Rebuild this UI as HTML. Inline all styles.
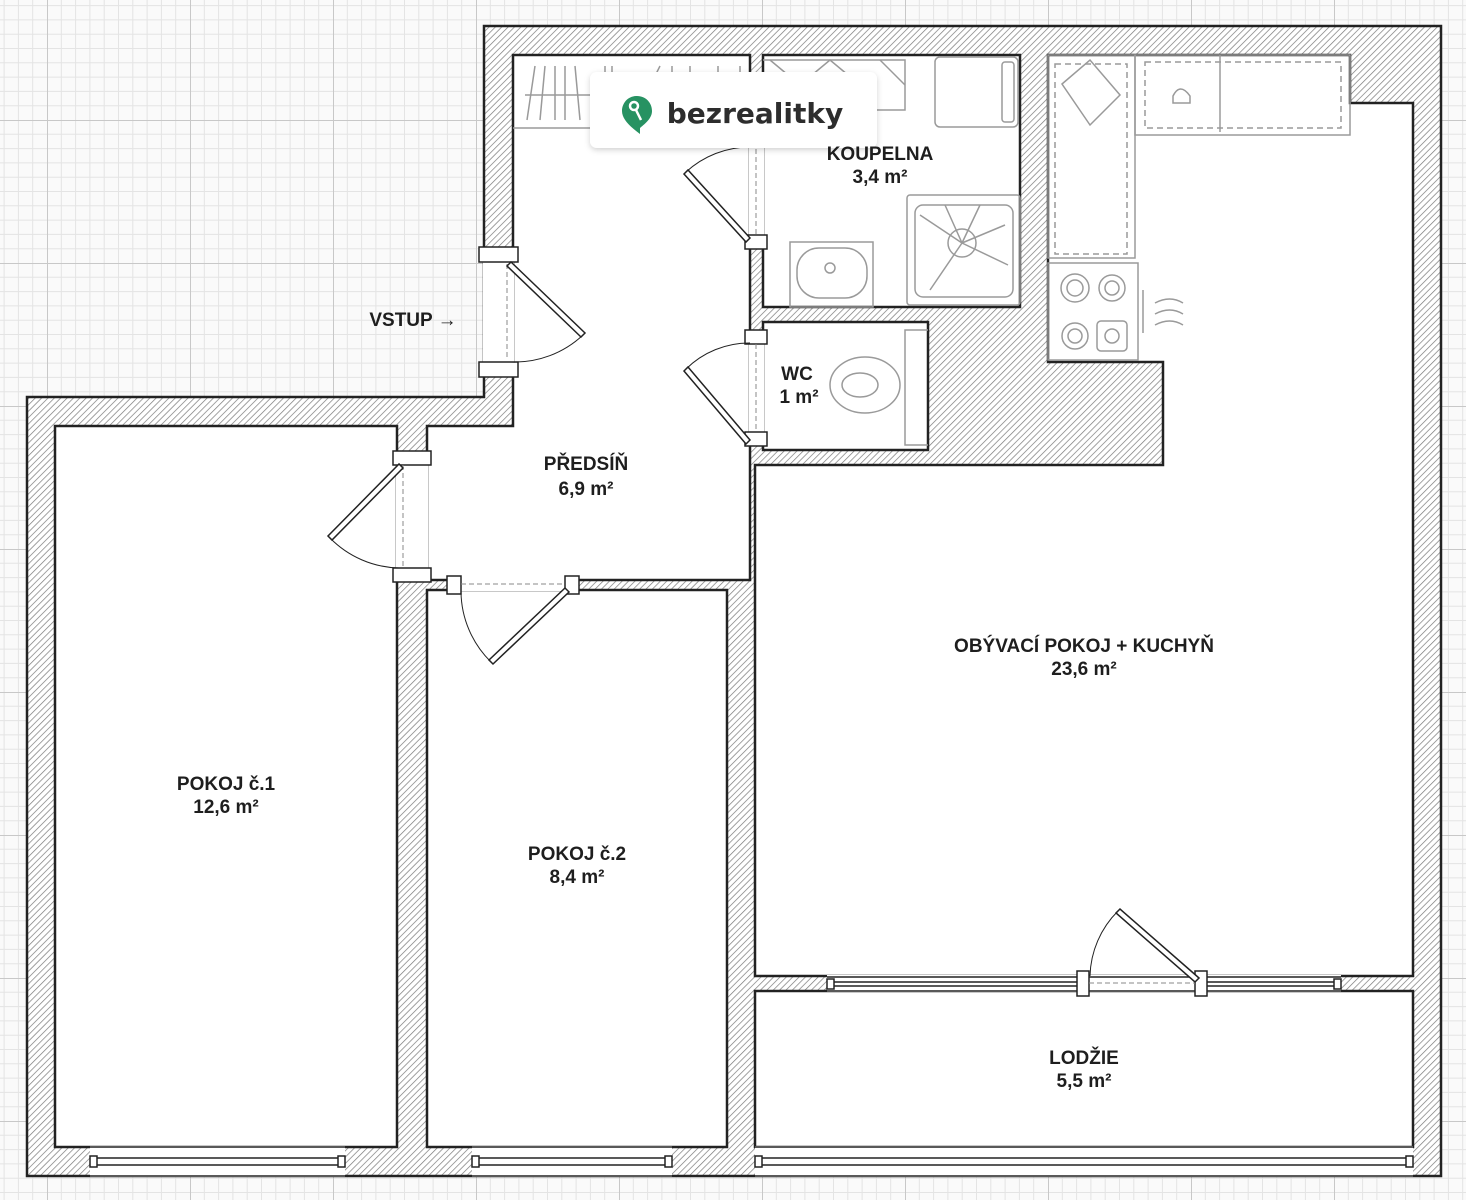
<!DOCTYPE html>
<html><head><meta charset="utf-8"><style>
html,body{margin:0;padding:0;background:#fafafa}
svg{display:block}
text{font-family:"Liberation Sans",Arial,sans-serif;font-weight:bold;fill:#1e1e1e;font-size:19px;text-anchor:middle}
</style></head><body>
<svg width="1466" height="1200" viewBox="0 0 1466 1200" xmlns="http://www.w3.org/2000/svg">
<defs>
<pattern id="grid" patternUnits="userSpaceOnUse" x="47" y="120" width="143" height="143">
<rect width="143" height="143" fill="#fafafa"/>
<g stroke="#e4e4e4" stroke-width="1">
<path d="M14.3 0V143M28.6 0V143M42.9 0V143M57.2 0V143M71.5 0V143M85.8 0V143M100.1 0V143M114.4 0V143M128.7 0V143"/>
<path d="M0 14.3H143M0 28.6H143M0 42.9H143M0 57.2H143M0 71.5H143M0 85.8H143M0 100.1H143M0 114.4H143M0 128.7H143"/>
</g>
<path d="M0.5 0V143M0 0.5H143" stroke="#c8c8c8" stroke-width="1"/>
</pattern>
<pattern id="hatch" patternUnits="userSpaceOnUse" width="4.5" height="4.5" patternTransform="rotate(45)">
<rect width="4.5" height="4.5" fill="#fff"/>
<line x1="0" y1="0" x2="0" y2="4.5" stroke="#7a7a7a" stroke-width="1.4"/>
</pattern>
<filter id="sh" x="-10%" y="-20%" width="120%" height="150%"><feDropShadow dx="0" dy="2" stdDeviation="3" flood-color="#000" flood-opacity="0.18"/></filter>
</defs>
<rect width="1466" height="1200" fill="url(#grid)"/>

<polygon points="484,26 1441,26 1441,1176 27,1176 27,397 484,397" fill="url(#hatch)" stroke="#222" stroke-width="2.5"/>

<g fill="#fff" stroke="#222" stroke-width="2.5">
<polygon points="513,55 750,55 750,580 427,580 427,426 513,426"/>
<rect x="763" y="55" width="257" height="252"/>
<rect x="763" y="322" width="165" height="128"/>
<polygon points="1048,55 1350,55 1350,103 1413,103 1413,976 755,976 755,465 1163,465 1163,362 1048,362"/>
<rect x="755" y="991" width="658" height="156"/>
<rect x="55" y="426" width="342" height="721"/>
<rect x="427" y="590" width="300" height="557"/>
</g>
<line x1="750" y1="465" x2="750" y2="580" stroke="#222" stroke-width="2"/>

<g fill="#fff" stroke="none">
<rect x="483" y="255" width="31" height="113"/>
<rect x="396" y="458" width="32" height="118"/>
<rect x="452" y="578" width="123" height="13"/>
<rect x="749" y="122" width="15" height="118"/>
<rect x="749" y="340" width="15" height="100"/>
<rect x="827" y="975" width="514" height="17"/>
<rect x="90" y="1146" width="255" height="31"/>
<rect x="472" y="1146" width="200" height="31"/>
<rect x="755" y="1146" width="658" height="31"/>
</g>
<g fill="none" stroke="#222" stroke-width="1.5">
<path d="M90 1147H345M90 1158H345M90 1165H345M90 1176H345"/>
<path d="M472 1147H672M472 1158H672M472 1165H672M472 1176H672"/>
<path d="M755 1147H1413M755 1158H1413M755 1165H1413M755 1176H1413"/>
<rect x="90" y="1156" width="7" height="11" fill="#fff"/>
<rect x="338" y="1156" width="7" height="11" fill="#fff"/>
<rect x="472" y="1156" width="7" height="11" fill="#fff"/>
<rect x="665" y="1156" width="7" height="11" fill="#fff"/>
<rect x="755" y="1156" width="7" height="11" fill="#fff"/>
<rect x="1406" y="1156" width="7" height="11" fill="#fff"/>
<path d="M827 977H1341M827 982H1081M827 986H1081M1201 982H1341M1201 986H1341M827 991H1341"/>
<rect x="827" y="979" width="7" height="10" fill="#fff"/>
<rect x="1334" y="979" width="7" height="10" fill="#fff"/>
<rect x="1077" y="971" width="12" height="25" fill="#fff"/>
<rect x="1195" y="971" width="12" height="25" fill="#fff"/>
<path d="M1089 983H1195" stroke-dasharray="5 3" stroke="#888" stroke-width="1"/>
<path d="M1199 978L1120 909L1116 913L1195 982Z" fill="#fff"/>
<path d="M1118 911A95 95 0 0 0 1090 976" stroke-width="1"/>
<rect x="479" y="247" width="39" height="15" fill="#fff"/>
<rect x="479" y="362" width="39" height="15" fill="#fff"/>
<path d="M507 264V360" stroke-dasharray="5 3" stroke="#888" stroke-width="1"/>
<path d="M511 262L585 333L581 337L507 266Z" fill="#fff"/>
<path d="M583 335A100 100 0 0 1 511 362" stroke-width="1"/>
<rect x="393" y="451" width="38" height="14" fill="#fff"/>
<rect x="393" y="568" width="38" height="14" fill="#fff"/>
<path d="M403 465V568" stroke-dasharray="5 3" stroke="#888" stroke-width="1"/>
<path d="M399 464L328 536L332 540L403 468Z" fill="#fff"/>
<path d="M330 538A100 100 0 0 0 399 568" stroke-width="1"/>
<rect x="447" y="576" width="14" height="18" fill="#fff"/>
<rect x="565" y="576" width="14" height="18" fill="#fff"/>
<path d="M461 584H565" stroke-dasharray="5 3" stroke="#888" stroke-width="1"/>
<path d="M565 588L489 660L493 664L569 592Z" fill="#fff"/>
<path d="M491 662A100 100 0 0 1 461 592" stroke-width="1"/>
<rect x="745" y="235" width="22" height="14" fill="#fff"/>
<path d="M756 125V235" stroke-dasharray="5 3" stroke="#888" stroke-width="1"/>
<path d="M750 238L688 170L684 174L746 242Z" fill="#fff"/>
<path d="M686 172A95 95 0 0 1 750 147" stroke-width="1"/>
<rect x="745" y="330" width="22" height="14" fill="#fff"/>
<rect x="745" y="432" width="22" height="14" fill="#fff"/>
<path d="M756 344V432" stroke-dasharray="5 3" stroke="#888" stroke-width="1"/>
<path d="M750 440L688 367L684 371L746 444Z" fill="#fff"/>
<path d="M686 369A90 90 0 0 1 750 343" stroke-width="1"/>
</g>

<g fill="none" stroke="#9a9a9a" stroke-width="1.5">
<path d="M513 128H590"/>
<path d="M535 66L527 120M545 66L540 120M555 66V120M565 66V120M575 66L580 120M605 66V76M612 66V76M660 66L655 76M672 66V76M690 66V76M718 66V76M740 66V76"/>
<path d="M525 95H590"/>
<path d="M763 60H905V110H870"/>
<path d="M770 60L800 85L830 60L860 85M880 60L905 85"/>
<rect x="935" y="57" width="83" height="70" rx="5"/>
<rect x="1002" y="62" width="12" height="60" rx="3"/>
<rect x="907" y="195" width="113" height="110" rx="3"/>
<rect x="915" y="205" width="98" height="92" rx="8"/>
<circle cx="962" cy="243" r="14"/>
<path d="M962 243L920 215M962 243L945 205M962 243L980 205M962 243L1005 225M962 243L1008 265M962 243L930 290"/>
<rect x="790" y="242" width="83" height="65"/>
<rect x="797" y="248" width="70" height="50" rx="22"/>
<circle cx="830" cy="268" r="5"/>
<path d="M928 330H905V445H928"/>
<ellipse cx="865" cy="385" rx="35" ry="28"/>
<ellipse cx="860" cy="385" rx="18" ry="12"/>
<rect x="1048" y="55" width="87" height="203"/>
<rect x="1055" y="64" width="72" height="190" stroke-dasharray="6 4"/>
<path d="M1062 84L1090 60L1120 95L1090 125Z"/>
<rect x="1135" y="55" width="215" height="80"/>
<rect x="1145" y="62" width="196" height="66" stroke-dasharray="6 4"/>
<path d="M1220 55V132"/>
<path d="M1173 96Q1180 82 1190 96V103H1173Z"/>
<rect x="1048" y="263" width="90" height="97"/>
<circle cx="1075" cy="288" r="14"/><circle cx="1075" cy="288" r="8"/>
<circle cx="1112" cy="288" r="13"/><circle cx="1112" cy="288" r="7"/>
<circle cx="1075" cy="336" r="13"/><circle cx="1075" cy="336" r="7"/>
<rect x="1097" y="321" width="30" height="30" rx="4"/><circle cx="1112" cy="336" r="7"/>
<path d="M1143 290V333M1155 303Q1170 295 1183 303M1155 314Q1170 306 1183 314M1155 325Q1170 317 1183 325"/>
</g>

<rect x="590" y="72" width="287" height="76" rx="7" fill="#fff" filter="url(#sh)"/>
<path d="M637 96C628 96 622 103 622 111C622 120 632 128 640 134V128C646 123 652 118 652 111C652 103 646 96 637 96Z" fill="#279262"/>
<circle cx="634" cy="106" r="4" fill="none" stroke="#fff" stroke-width="2.5"/>
<path d="M636 110L641 120" stroke="#fff" stroke-width="2.5"/>
<text x="755" y="123" style="font-size:28px;fill:#2d2d2d;font-family:'DejaVu Sans','Liberation Sans',sans-serif">bezrealitky</text>

<text x="880" y="160">KOUPELNA</text><text x="880" y="183">3,4 m²</text>
<text x="797" y="380">WC</text><text x="799" y="403">1 m²</text>
<text x="586" y="470">PŘEDSÍŇ</text><text x="586" y="495">6,9 m²</text>
<text x="1084" y="652">OBÝVACÍ POKOJ + KUCHYŇ</text><text x="1084" y="675">23,6 m²</text>
<text x="226" y="790">POKOJ č.1</text><text x="226" y="813">12,6 m²</text>
<text x="577" y="860">POKOJ č.2</text><text x="577" y="883">8,4 m²</text>
<text x="1084" y="1064">LODŽIE</text><text x="1084" y="1087">5,5 m²</text>
<text x="413" y="326">VSTUP →</text>
</svg>
</body></html>
